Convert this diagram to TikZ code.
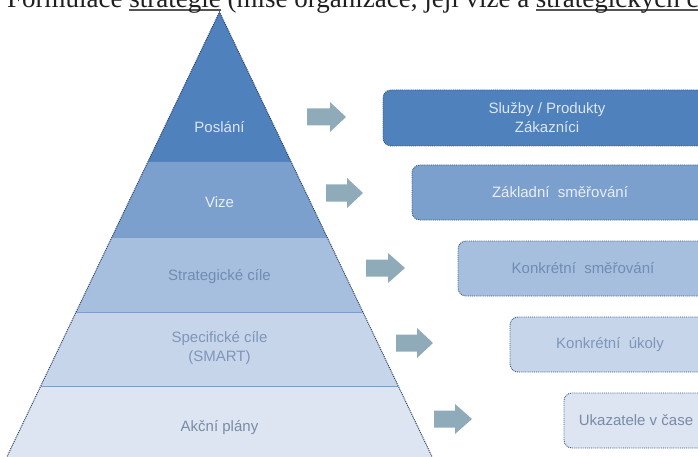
\documentclass[tikz,border=0pt]{standalone}
\usepackage{fontspec}
\setmainfont{Liberation Serif}
\newfontfamily\diagsans{Liberation Sans}
\definecolor{cPos}{HTML}{4F81BD}
\definecolor{cViz}{HTML}{7BA0CD}
\definecolor{cStr}{HTML}{A7BFDE}
\definecolor{cSpe}{HTML}{C6D5EA}
\definecolor{cAkc}{HTML}{DCE5F1}
\definecolor{tPos}{HTML}{DCE6F2}
\definecolor{tViz}{HTML}{E8EEF7}
\definecolor{tStr}{HTML}{6F8CB3}
\definecolor{tSpe}{HTML}{7D96BA}
\definecolor{tAkc}{HTML}{7A8BA6}
\definecolor{arrc}{HTML}{8FAAB8}
\definecolor{edgec}{HTML}{2A3F62}
\definecolor{boxedge}{HTML}{34557F}
\definecolor{sepc}{HTML}{7F9DC9}
\definecolor{ulgray}{HTML}{555555}
\newcommand\myul[1]{\setbox0\hbox{#1}\rlap{\color{ulgray}\rule[-3.5pt]{\wd0}{2pt}}\box0\relax}
\newcommand\diagarrow[4]{%
  \fill[arrc] (#1,#4-8.5) -- (#2,#4-8.5) -- (#2,#4-15) -- (#3,#4) -- (#2,#4+15) -- (#2,#4+8.5) -- (#1,#4+8.5) -- cycle;}
\tikzset{
  ptext/.style={font=\diagsans\fontsize{15}{19}\selectfont, align=center, inner sep=0},
  boxst/.style={draw=boxedge, densely dotted, line width=0.9pt, rounded corners=8pt,
    font=\diagsans\fontsize{15}{19}\selectfont, align=center, inner sep=0},
  sepline/.style={draw=sepc, line width=0.6pt},
  sideline/.style={draw=edgec, densely dotted, line width=1pt},
}
\begin{document}
\begin{tikzpicture}[x=1pt,y=-1pt]
\useasboundingbox (0,0) rectangle (698,457);
\clip (0,0) rectangle (698,457);
% title line
\node[anchor=base west, font=\fontsize{27}{31}\selectfont, text=black!88, inner sep=0] (title) at (7,7.5)
  {Formulace \myul{strategie} (mise organizace, její vize a \myul{strategických cílů)}};
% pyramid bands
\fill[cPos] (219.5,12) -- (291.2,162) -- (147.8,162) -- cycle;
\fill[cViz] (147.8,162) -- (291.2,162) -- (327.1,237) -- (111.9,237) -- cycle;
\fill[cStr] (111.9,237) -- (327.1,237) -- (362.9,312) -- (76.1,312) -- cycle;
\fill[cSpe] (76.1,312) -- (362.9,312) -- (398.3,386) -- (40.7,386) -- cycle;
\fill[cAkc] (40.7,386) -- (398.3,386) -- (433.6,460) -- (5.4,460) -- cycle;
\draw[sepline] (147.8,162) -- (291.2,162);
\draw[sepline] (111.9,237) -- (327.1,237);
\draw[sepline] (76.1,312) -- (362.9,312);
\draw[sepline] (40.7,386) -- (398.3,386);
\draw[sideline] (5.4,460) -- (219.5,12) -- (433.6,460);
% pyramid labels
\node[ptext, text=tPos] (pPos) at (219.5,127) {Poslání};
\node[ptext, text=tViz] (pViz) at (219.5,202) {Vize};
\node[ptext, text=tStr] (pStr) at (219.5,277) {Strategické cíle};
\node[ptext, text=tSpe] (pSpe) at (219.5,348) {Specifické cíle\\(SMART)};
\node[ptext, text=tAkc] (pAkc) at (219.5,428) {Akční plány};
% block arrows
\diagarrow{307}{330}{346}{117}
\diagarrow{326}{347}{363}{193}
\diagarrow{366}{388}{405}{268}
\diagarrow{396}{417}{433}{343}
\diagarrow{434}{455}{472}{419}
% boxes
\node[boxst, fill=cPos, text=tPos, minimum width=328pt, minimum height=56pt] (b1) at (547,118) {Služby / Produkty\\Zákazníci};
\node[boxst, fill=cViz, text=tViz, minimum width=296pt, minimum height=55pt] (b2) at (560,192.5) {Základní\ \ směřování};
\node[boxst, fill=cStr, text=tStr, minimum width=250pt, minimum height=55pt] (b3) at (583,268.5) {Konkrétní\ \ směřování};
\node[boxst, fill=cSpe, text=tSpe, minimum width=200pt, minimum height=55pt] (b4) at (610,344.5) {Konkrétní\ \ úkoly};
\node[boxst, fill=cAkc, text=tAkc, minimum width=144pt, minimum height=55pt] (b5) at (636,420.5) {Ukazatele v čase};
\end{tikzpicture}
\end{document}
